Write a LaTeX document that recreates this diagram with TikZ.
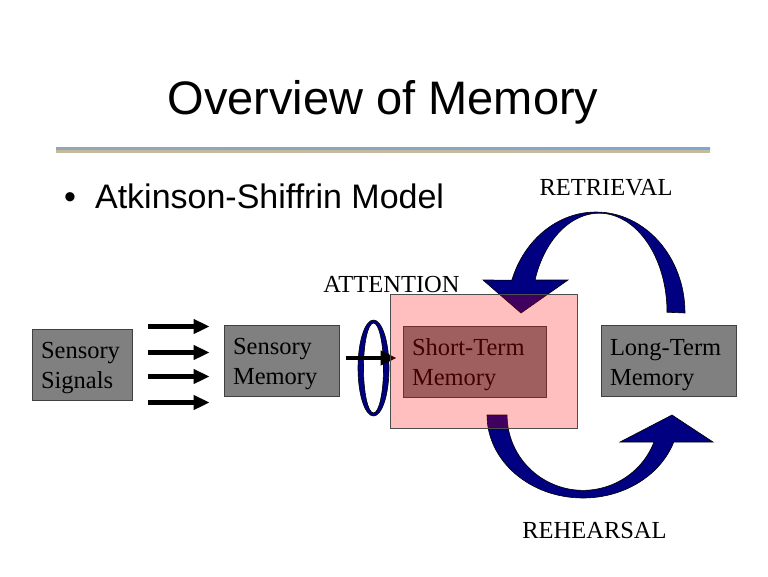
\documentclass[tikz,border=0pt]{standalone}
\usepackage{fontspec}
\setmainfont{Liberation Serif}
\setsansfont{Liberation Sans}
\usetikzlibrary{arrows.meta, calc}
\definecolor{navyarrow}{RGB}{0,0,128}
\definecolor{boxgray}{RGB}{128,128,128}
\definecolor{rulesky}{RGB}{128,166,212}
\definecolor{rulesteel}{RGB}{150,165,180}
\definecolor{rulesand}{RGB}{196,186,158}

\begin{document}
\begin{tikzpicture}[x=1pt, y=-1pt,
  memory/.style={draw=black!75, line width=0.8pt, fill=boxgray, minimum height=71pt,
    inner xsep=9pt, align=left, font=\fontsize{24.5}{30}\selectfont,
    execute at begin node={\rule{0pt}{24pt}}},
  stage/.style={anchor=base, inner sep=0pt, font=\fontsize{24.5}{30}\selectfont},
  flow/.style={line width=4.5pt, -{Triangle[length=16pt, width=14pt]}},
  curvearrow/.style={fill=navyarrow, draw=black, line width=0.6pt}]

  % page
  \fill[white] (0,0) rectangle (768,576);
  \useasboundingbox (0,0) rectangle (768,576);

  % title and rule
  \node[anchor=base, inner sep=0pt, font=\fontsize{47}{50}\selectfont\sffamily] (title) at (383,114) {Overview of Memory};
  \shade[left color=rulesteel, right color=rulesky] (56,147) rectangle (710,150);
  \fill[rulesand] (56,150) rectangle (710,153);
  \node[anchor=base west, inner sep=0pt, font=\fontsize{34}{40}\selectfont\sffamily] (model) at (64,208)
    {\textbullet\hspace{19pt}Atkinson-Shiffrin Model};

  % memory stores
  \node[memory, text width=82pt] (sig) at (82,364.5) {Sensory\\Signals};
  \node[memory, text width=97pt] (smem) at (281.5,360.5) {Sensory\\Memory};
  \node[memory, text width=125pt] (stm) at (474.5,361.5) {Short-Term\\Memory};
  \node[memory, text width=117pt] (ltm) at (668.5,361) {Long-Term\\Memory};

  % incoming signals
  \foreach \dy in {-38,-12,12,38}
    \draw[flow] ($(sig.east)+(16,\dy)$) -- ($(smem.west |- sig.east)+(-14,\dy)$);

  % retrieval arrow
  \filldraw[curvearrow] (685,313) arc[start angle=0, end angle=-161, x radius=89, y radius=101]
    -- (483,280) -- (521,313) -- (568,280) -- (535,280)
    arc[start angle=-161, end angle=0, x radius=67.85, y radius=99] -- cycle;

  % rehearsal arrow
  \filldraw[curvearrow] (487,415) arc[start angle=180, end angle=19, x radius=96, y radius=83]
    -- (713,442) -- (672,415) -- (620,442) -- (654,442)
    arc[start angle=21, end angle=180, x radius=76, y radius=75.3] -- cycle;

  % attention filter
  \filldraw[curvearrow, even odd rule] (373.5,368) ellipse[x radius=15.5, y radius=48]
    (373.5,368) ellipse[x radius=10, y radius=45];
  \draw[flow] ($(smem.east)+(7,-2.5)$) -- ($(stm.west |- smem.east)+(-6,-2.5)$);

  % working area
  \node[draw=black!70, line width=0.8pt, fill=red, fill opacity=0.25,
    minimum width=187pt, minimum height=134pt] (focus) at (483.5,361) {};

  % process labels
  \node[stage] (attn) at (391.5,292) {ATTENTION};
  \node[stage] (retr) at (606,195) {RETRIEVAL};
  \node[stage] (rehe) at (594.5,538) {REHEARSAL};

\end{tikzpicture}
\end{document}
